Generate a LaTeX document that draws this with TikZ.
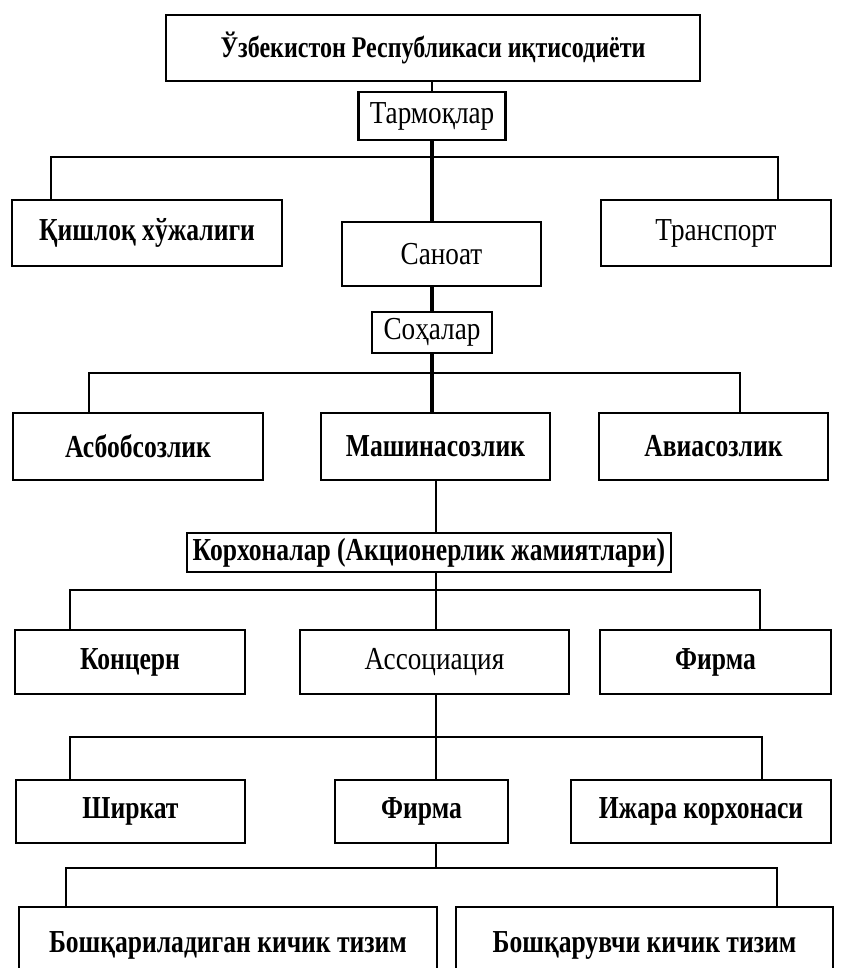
\documentclass[tikz,border=0pt]{standalone}
\usepackage{fontspec}
\setmainfont{Liberation Serif}
% narrow, tall faces for the box labels
\newfontfamily\regfont{Liberation Serif}[FakeStretch=0.85]
\newfontfamily\heavyfont{Liberation Serif}[FakeStretch=0.80]
\begin{document}
\begin{tikzpicture}[x=1pt,y=-1pt,
  box/.style={draw, line width=2.4pt, inner sep=0pt, align=center,
    font=\regfont\fontsize{32}{34}\selectfont},
  boldbox/.style={box, font=\heavyfont\bfseries\fontsize{32}{34}\selectfont},
  link/.style={line width=2.4pt},
  trunk/.style={line width=3.2pt},
]
\useasboundingbox (0,0) rectangle (843,968);
\clip (0,0) rectangle (843,968);
\fill[white] (0,0) rectangle (843,968);

% level 0
\node[boldbox, minimum width=534, minimum height=66,
  font=\heavyfont\bfseries\fontsize{30}{32}\selectfont] (econ) at (433,48)
  {Ўзбекистон Республикаси иқтисодиёти};
\node[box, minimum width=147, minimum height=48] (tarm) at (432,116) {Тармоқлар};

% branches
\node[boldbox, minimum width=270, minimum height=66] (qish) at (147,233) {Қишлоқ хўжалиги};
\node[box, minimum width=199, minimum height=64] (sanoat) at (441.5,254) {Саноат};
\node[box, minimum width=230, minimum height=66] (trans) at (716,233) {Транспорт};
\node[box, minimum width=120, minimum height=41] (soha) at (432,332.5) {Соҳалар};

% industries
\node[boldbox, minimum width=250, minimum height=67] (asbob) at (138,446.5) {Асбобсозлик};
\node[boldbox, minimum width=229, minimum height=67] (mash) at (435.5,446.5) {Машинасозлик};
\node[boldbox, minimum width=229, minimum height=67] (avia) at (713.5,446.5) {Авиасозлик};

% enterprises
\node[boldbox, minimum width=484, minimum height=39] (korx) at (429,552.5)
  {Корхоналар (Акционерлик жамиятлари)};
\node[boldbox, minimum width=230, minimum height=64] (konc) at (130,662) {Концерн};
\node[box, minimum width=269, minimum height=64] (assoc) at (434.5,662) {Ассоциация};
\node[boldbox, minimum width=231, minimum height=64] (firmaA) at (715.5,662) {Фирма};

\node[boldbox, minimum width=229, minimum height=63] (shirk) at (130.5,811.5) {Ширкат};
\node[boldbox, minimum width=173, minimum height=63] (firmaB) at (421.5,811.5) {Фирма};
\node[boldbox, minimum width=260, minimum height=63] (ijara) at (701,811.5) {Ижара корхонаси};

% subsystems (open at the bottom edge)
\node[boldbox, minimum width=418, minimum height=76] (boshA) at (228,945)
  {Бошқариладиган кичик тизим};
\node[boldbox, minimum width=377, minimum height=76] (boshB) at (644.5,945)
  {Бошқарувчи кичик тизим};

% bus coordinates
\coordinate (b1l) at (51,157);  \coordinate (b1r) at (778,157);
\coordinate (b2l) at (89,373);  \coordinate (b2r) at (740,373);
\coordinate (b3l) at (70,590);  \coordinate (b3r) at (760,590);
\coordinate (b4l) at (70,737);  \coordinate (b4r) at (762,737);
\coordinate (b5l) at (66,868);  \coordinate (b5r) at (777,868);

% connectors
\draw[link] (tarm.north) -- (tarm.north |- econ.south);
\draw[trunk] (tarm.south) -- (tarm.south |- sanoat.north);
\draw[link] (qish.north -| b1l) -- (b1l) -- (b1r) -- (trans.north -| b1r);

\draw[trunk] (sanoat.south -| soha) -- (soha.north);
\draw[trunk] (soha.south) -- (soha.south |- mash.north);
\draw[link] (asbob.north -| b2l) -- (b2l) -- (b2r) -- (avia.north -| b2r);

\draw[link] (mash.south -| 436,0) -- (korx.north -| 436,0);
\draw[link] (korx.south -| 436,0) -- (assoc.north -| 436,0);
\draw[link] (konc.north -| b3l) -- (b3l) -- (b3r) -- (firmaA.north -| b3r);

\draw[link] (assoc.south -| 436,0) -- (firmaB.north -| 436,0);
\draw[link] (shirk.north -| b4l) -- (b4l) -- (b4r) -- (ijara.north -| b4r);

\draw[link] (firmaB.south -| 436,0) -- (436,868);
\draw[link] (boshA.north -| b5l) -- (b5l) -- (b5r) -- (boshB.north -| b5r);
\end{tikzpicture}
\end{document}
